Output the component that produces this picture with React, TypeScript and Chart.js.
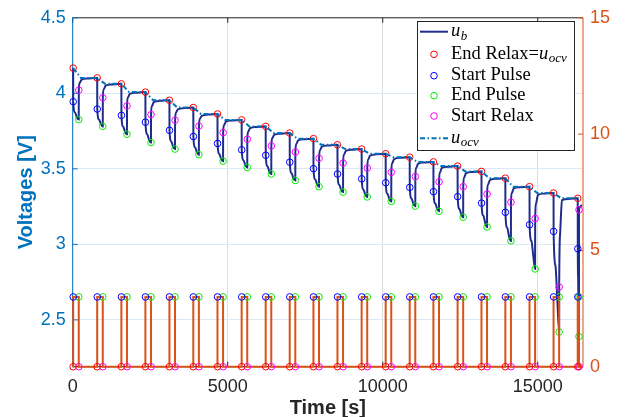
import React, { useEffect, useRef } from 'react';
import { Chart, registerables } from 'chart.js';
Chart.register(...registerables);

// ---- data ----
const xTicks = [0, 5000, 10000, 15000];
const leftTicks = [2.5, 3, 3.5, 4, 4.5];
const rightTicks = [0, 5, 10, 15];
const timeMax = 16460;

const pulseStart = [15, 790, 1570, 2345, 3120, 3890, 4670, 5450, 6225, 7000, 7765, 8540, 9320, 10095, 10870, 11635, 12415, 13185, 13955, 14735, 15510, 16290];
const pulseEnd = [195, 970, 1750, 2525, 3300, 4070, 4850, 5630, 6405, 7180, 7945, 8720, 9500, 10275, 11050, 11815, 12595, 13365, 14135, 14915, 15690, 16330];
const pulseCurrent = [3, 3, 3, 3, 3, 3, 3, 3, 3, 3, 3, 3, 3, 3, 3, 3, 3, 3, 3, 3, 3, 3];

const uRelaxEnd = [4.167, 4.102, 4.063, 4.008, 3.954, 3.906, 3.863, 3.824, 3.781, 3.737, 3.700, 3.659, 3.631, 3.600, 3.577, 3.546, 3.518, 3.483, 3.438, 3.382, 3.340, 3.305];
const uPulseStart = [3.945, 3.896, 3.854, 3.809, 3.755, 3.714, 3.668, 3.626, 3.590, 3.544, 3.501, 3.466, 3.434, 3.408, 3.377, 3.349, 3.316, 3.273, 3.212, 3.130, 3.086, 2.971];
const uPulseMidA = [3.874, 3.827, 3.779, 3.728, 3.681, 3.642, 3.598, 3.556, 3.516, 3.471, 3.430, 3.394, 3.362, 3.334, 3.303, 3.271, 3.234, 3.190, 3.110, 3.023, 2.860, 2.780];
const uPulseMidB = [3.840, 3.795, 3.744, 3.690, 3.646, 3.608, 3.565, 3.523, 3.481, 3.437, 3.396, 3.360, 3.328, 3.299, 3.268, 3.235, 3.196, 3.143, 3.051, 2.926, 2.640, 2.580];
const uPulseEnd = [3.826, 3.781, 3.729, 3.674, 3.631, 3.594, 3.551, 3.509, 3.466, 3.423, 3.382, 3.346, 3.314, 3.284, 3.253, 3.219, 3.180, 3.115, 3.023, 2.837, 2.420, 2.390];
const uRelaxStart = [4.021, 3.971, 3.917, 3.859, 3.822, 3.783, 3.740, 3.696, 3.652, 3.611, 3.570, 3.538, 3.505, 3.477, 3.449, 3.414, 3.382, 3.333, 3.279, 3.171, 2.717, 3.229];
const uRelaxEarly = [4.070, 4.026, 3.972, 3.916, 3.872, 3.831, 3.790, 3.747, 3.703, 3.664, 3.623, 3.594, 3.562, 3.537, 3.507, 3.476, 3.443, 3.396, 3.341, 3.272, 3.070, 3.248];
const uRelaxMid = [4.090, 4.051, 3.996, 3.942, 3.894, 3.851, 3.812, 3.769, 3.725, 3.688, 3.647, 3.619, 3.588, 3.565, 3.534, 3.506, 3.471, 3.426, 3.370, 3.328, 3.293, 3.262];
const uRelaxLate: (number | null)[] = [4.098, 4.059, 4.004, 3.950, 3.902, 3.859, 3.820, 3.777, 3.733, 3.696, 3.655, 3.627, 3.596, 3.573, 3.542, 3.514, 3.479, 3.434, 3.378, 3.336, 3.301, null];
const relaxOffsets = [30, 90, 300];
const ocvSettle = 250;

// ---- styles ----
const C_UB = '#1e2d8c';
const C_OCV = '#0072BD';
const C_CUR = '#D95319';
const C_AX = '#262626';
const SANS = "'Liberation Sans', Arial, sans-serif";
const SERIF = "'Liberation Serif', 'Times New Roman', serif";

type P = { x: number; y: number };

function buildData() {
  const n = pulseStart.length;
  const ub: P[] = [];
  const ocv: P[] = [];
  const cur: P[] = [{ x: 0, y: 0 }];
  const vRed: P[] = [], vBlue: P[] = [], vGreen: P[] = [], vMag: P[] = [];
  const iRed: P[] = [], iBlue: P[] = [], iGreen: P[] = [], iMag: P[] = [];
  for (let k = 0; k < n; k++) {
    const t0 = pulseStart[k], t1 = pulseEnd[k], d = t1 - t0, I = pulseCurrent[k];
    ub.push({ x: t0, y: uRelaxEnd[k] });
    ub.push({ x: t0 + 2, y: uPulseStart[k] });
    ub.push({ x: t0 + d / 3, y: uPulseMidA[k] });
    ub.push({ x: t0 + (2 * d) / 3, y: uPulseMidB[k] });
    ub.push({ x: t1, y: uPulseEnd[k] });
    ub.push({ x: t1 + 2, y: uRelaxStart[k] });
    const rel = [uRelaxEarly[k], uRelaxMid[k], uRelaxLate[k]];
    rel.forEach((v, i) => {
      if (v != null) ub.push({ x: t1 + 2 + relaxOffsets[i], y: v });
    });
    ocv.push({ x: t0, y: uRelaxEnd[k] });
    if (k < n - 1) ocv.push({ x: t0 + ocvSettle, y: uRelaxEnd[k + 1] });
    cur.push({ x: t0, y: 0 }, { x: t0, y: I }, { x: t1, y: I }, { x: t1, y: 0 });
    vRed.push({ x: t0, y: uRelaxEnd[k] });
    vBlue.push({ x: t0 + 2, y: uPulseStart[k] });
    vGreen.push({ x: t1, y: uPulseEnd[k] });
    vMag.push({ x: t1 + 2, y: uRelaxStart[k] });
    iRed.push({ x: t0, y: 0 });
    iBlue.push({ x: t0 + 2, y: I });
    iGreen.push({ x: t1, y: I });
    iMag.push({ x: t1 + 2, y: 0 });
  }
  cur.push({ x: timeMax, y: 0 });
  return { ub, ocv, cur, vRed, vBlue, vGreen, vMag, iRed, iBlue, iGreen, iMag };
}

const marker = (data: P[], color: string, axis: string) => ({
  data,
  yAxisID: axis,
  showLine: false,
  borderColor: color,
  backgroundColor: 'rgba(0,0,0,0)',
  pointStyle: 'circle',
  pointRadius: 3.3,
  pointBorderWidth: 1,
  clip: false as const,
});

const framePlugin = {
  id: 'frame',
  beforeDatasetsDraw(chart: any) {
    const { ctx, chartArea: a } = chart;
    const xs = chart.scales.x, yl = chart.scales.y, yr = chart.scales.y1;
    const line = (x1: number, y1: number, x2: number, y2: number) => {
      ctx.beginPath();
      ctx.moveTo(x1, y1);
      ctx.lineTo(x2, y2);
      ctx.stroke();
    };
    ctx.save();
    ctx.lineWidth = 1;
    ctx.strokeStyle = C_AX;
    line(a.left, a.top, a.right, a.top);
    line(a.left, a.bottom, a.right, a.bottom);
    xTicks.forEach((v) => {
      const px = xs.getPixelForValue(v);
      line(px, a.bottom, px, a.bottom - 5);
      line(px, a.top, px, a.top + 5);
    });
    ctx.strokeStyle = C_OCV;
    line(a.left, a.top, a.left, a.bottom);
    leftTicks.forEach((v) => {
      const py = yl.getPixelForValue(v);
      line(a.left, py, a.left + 5, py);
    });
    ctx.strokeStyle = C_CUR;
    line(a.right, a.top, a.right, a.bottom);
    rightTicks.forEach((v) => {
      const py = yr.getPixelForValue(v);
      line(a.right, py, a.right - 5, py);
    });
    ctx.restore();
  },
  afterDraw(chart: any) {
    const { ctx, chartArea: a } = chart;
    ctx.save();
    // axis titles
    ctx.font = `bold 20px ${SANS}`;
    ctx.fillStyle = C_AX;
    ctx.textAlign = 'center';
    ctx.textBaseline = 'alphabetic';
    ctx.fillText('Time [s]', (a.left + a.right) / 2, 413.5);
    ctx.save();
    ctx.translate(32, (a.top + a.bottom) / 2);
    ctx.rotate(-Math.PI / 2);
    ctx.fillStyle = C_OCV;
    ctx.fillText('Voltages [V]', 0, 0);
    ctx.restore();

    // legend
    const bx = 417.5, by = 21.5, bw = 157, bh = 129;
    ctx.fillStyle = '#ffffff';
    ctx.fillRect(bx, by, bw, bh);
    ctx.strokeStyle = C_AX;
    ctx.lineWidth = 1;
    ctx.strokeRect(bx, by, bw, bh);
    const rows = [31.7, 54.3, 75.7, 95.7, 116, 138.3];
    const tx = 451;
    const main = `18.5px ${SERIF}`;
    const ital = `italic 18.5px ${SERIF}`;
    const sub = `italic 13px ${SERIF}`;
    ctx.textAlign = 'left';
    ctx.fillStyle = '#000';
    const mathU = (x: number, y: number, s: string) => {
      ctx.font = ital;
      ctx.fillText('u', x, y);
      const w = ctx.measureText('u').width;
      ctx.font = sub;
      ctx.fillText(s, x + w + 0.5, y + 3.5);
    };
    // row 1: u_b line
    ctx.strokeStyle = C_UB;
    ctx.lineWidth = 2;
    ctx.beginPath();
    ctx.moveTo(420, rows[0]);
    ctx.lineTo(448, rows[0]);
    ctx.stroke();
    mathU(tx, rows[0] + 4.5, 'b');
    // marker rows
    const mk = [
      { c: '#ff0000', t: 'End Relax=' },
      { c: '#0000ff', t: 'Start Pulse' },
      { c: '#00ee00', t: 'End Pulse' },
      { c: '#ff00ff', t: 'Start Relax' },
    ];
    mk.forEach((m, i) => {
      const y = rows[i + 1];
      ctx.strokeStyle = m.c;
      ctx.lineWidth = 1;
      ctx.beginPath();
      ctx.arc(434, y, 3.3, 0, Math.PI * 2);
      ctx.stroke();
      ctx.font = main;
      ctx.fillStyle = '#000';
      ctx.fillText(m.t, tx, y + 4.5);
      if (i === 0) {
        const w = ctx.measureText(m.t).width;
        mathU(tx + w, y + 4.5, 'ocv');
      }
    });
    // row 6: u_ocv dash-dot
    ctx.strokeStyle = C_OCV;
    ctx.lineWidth = 2;
    ctx.setLineDash([5, 2.5, 1.5, 2.5]);
    ctx.beginPath();
    ctx.moveTo(420, rows[5]);
    ctx.lineTo(448, rows[5]);
    ctx.stroke();
    ctx.setLineDash([]);
    mathU(tx, rows[5] + 4.5, 'ocv');
    ctx.restore();
  },
};

export default function App() {
  const ref = useRef<HTMLCanvasElement>(null);
  useEffect(() => {
    document.body.style.margin = '0';
    const d = buildData();
    const chart = new Chart(ref.current as HTMLCanvasElement, {
      type: 'scatter',
      data: {
        datasets: [
          marker(d.iRed, '#ff0000', 'y1'),
          marker(d.iBlue, '#0000ff', 'y1'),
          marker(d.iGreen, '#00ee00', 'y1'),
          marker(d.iMag, '#ff00ff', 'y1'),
          {
            data: d.cur,
            yAxisID: 'y1',
            showLine: true,
            borderColor: C_CUR,
            borderWidth: 2,
            pointRadius: 0,
            tension: 0,
            clip: false,
          } as any,
          {
            data: d.ocv,
            yAxisID: 'y',
            showLine: true,
            borderColor: C_OCV,
            borderWidth: 2,
            borderDash: [5, 2.5, 1.5, 2.5],
            pointRadius: 0,
            tension: 0,
            clip: false,
          } as any,
          marker(d.vRed, '#ff0000', 'y'),
          marker(d.vBlue, '#0000ff', 'y'),
          marker(d.vGreen, '#00ee00', 'y'),
          marker(d.vMag, '#ff00ff', 'y'),
          {
            data: d.ub,
            yAxisID: 'y',
            showLine: true,
            borderColor: C_UB,
            borderWidth: 2,
            pointRadius: 0,
            cubicInterpolationMode: 'monotone',
            clip: false,
          } as any,
        ],
      },
      options: {
        animation: false,
        responsive: false,
        devicePixelRatio: 1,
        layout: { padding: { top: 11.5, left: 0, right: 0, bottom: 0 } },
        plugins: { legend: { display: false }, tooltip: { enabled: false } },
        scales: {
          x: {
            type: 'linear',
            min: 0,
            max: timeMax,
            afterFit: (s: any) => { s.height = 50.3; },
            afterBuildTicks: (s: any) => { s.ticks = xTicks.map((v) => ({ value: v })); },
            grid: { color: '#dedede', drawTicks: false },
            border: { display: false },
            ticks: {
              font: { family: SANS, size: 18 },
              color: C_AX,
              padding: 10,
              maxRotation: 0,
              autoSkip: false,
              callback: (v: any) => String(v),
            },
          },
          y: {
            type: 'linear',
            position: 'left',
            min: 2.19,
            max: 4.5,
            afterFit: (s: any) => { s.width = 72.7; },
            afterBuildTicks: (s: any) => { s.ticks = leftTicks.map((v) => ({ value: v })); },
            grid: { color: '#dce8f3', drawTicks: false },
            border: { display: false },
            ticks: {
              font: { family: SANS, size: 18 },
              color: C_OCV,
              padding: 7,
              callback: (v: any) => String(v),
            },
          },
          y1: {
            type: 'linear',
            position: 'right',
            min: 0,
            max: 15,
            afterFit: (s: any) => { s.width = 46; },
            afterBuildTicks: (s: any) => { s.ticks = rightTicks.map((v) => ({ value: v })); },
            grid: { display: false, drawTicks: false },
            border: { display: false },
            ticks: {
              font: { family: SANS, size: 18 },
              color: C_CUR,
              padding: 7,
              callback: (v: any) => String(v),
            },
          },
        },
      } as any,
      plugins: [framePlugin],
    });
    return () => chart.destroy();
  }, []);
  return (
    <div style={{ width: 629, height: 417 }}>
      <canvas ref={ref} width={629} height={417} style={{ display: 'block' }} />
    </div>
  );
}
